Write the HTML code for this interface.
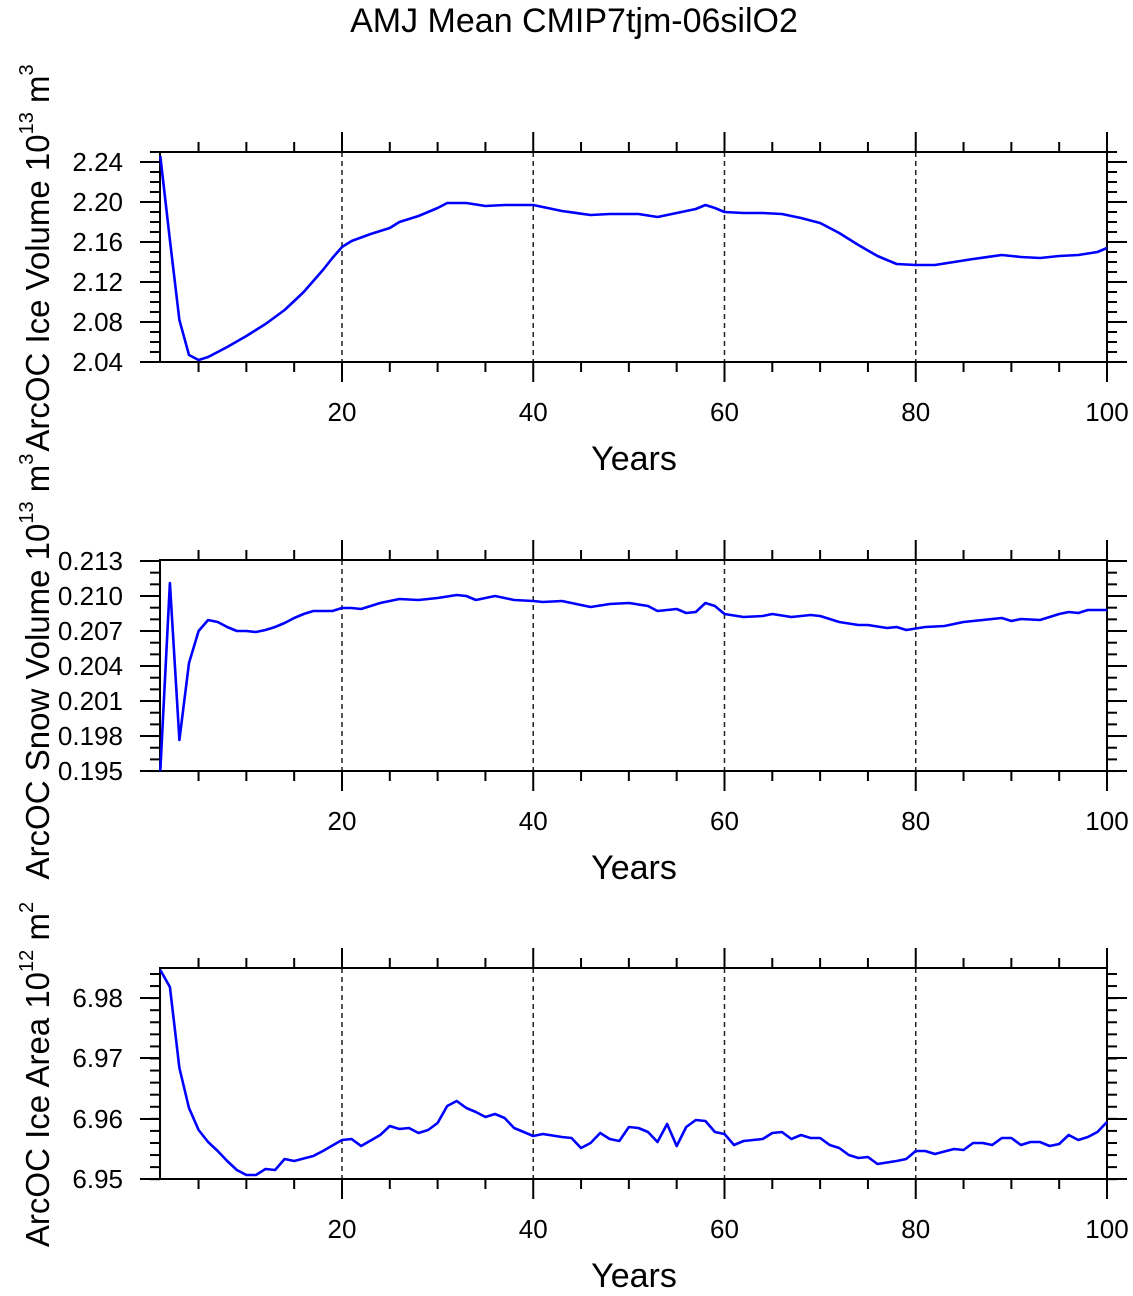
<!DOCTYPE html>
<html><head><meta charset="utf-8"><style>
body{margin:0;background:#fff}
svg text{font-family:"Liberation Sans",Arial,sans-serif;fill:#000}
</style></head><body>
<svg id="s" width="1133" height="1291" xmlns="http://www.w3.org/2000/svg">
<text x="574" y="32" font-size="34" text-anchor="middle">AMJ Mean CMIP7tjm-06silO2</text>
</svg>
<script>
const S=document.getElementById('s');const NS='http://www.w3.org/2000/svg';
function el(t,a,txt){const e=document.createElementNS(NS,t);for(const k in a)e.setAttribute(k,a[k]);if(txt!==undefined)e.textContent=txt;S.appendChild(e);return e;}
const X0=160,X1=1107;
function xy(yr){return 160.3+(yr-1)*9.5625;}
function interp(pts){const m={};for(let i=0;i<pts.length-1;i++){const[a,ya]=pts[i],[b,yb]=pts[i+1];for(let y=a;y<b;y++)m[y]=ya+(yb-ya)*(y-a)/(b-a);}m[pts[pts.length-1][0]]=pts[pts.length-1][1];let s='';for(let y=1;y<=100;y++)s+=xy(y).toFixed(1)+','+m[y].toFixed(1)+' ';return s;}
const panels=[
{top:152,bot:362,labels:[[162,'2.24'],[202,'2.20'],[242,'2.16'],[282,'2.12'],[322,'2.08'],[362,'2.04']],minor:10,minStart:152,
 yl:['ArcOC Ice Volume 10','13',' m','3'],
 d:[[1,156],[2,240],[3,320],[4,355],[5,360],[6,357],[7,352],[8,347],[10,336],[12,324],[14,310],[16,292],[18,270],[19,258],[20,247],[21,241],[23,234],[25,228],[26,222],[28,216],[30,208],[31,203],[33,203],[35,206],[37,205],[40,205],[43,211],[46,215],[48,214],[51,214],[53,217],[55,213],[57,209],[58,205],[59,208],[60,212],[62,213],[64,213],[66,214],[68,218],[70,223],[72,233],[74,245],[76,256],[78,264],[80,265],[82,265],[84,262],[86,259],[89,255],[91,257],[93,258],[95,256],[97,255],[99,252],[100,248]]},
{top:560,bot:771,labels:[[561,'0.213'],[596,'0.210'],[631,'0.207'],[666,'0.204'],[701,'0.201'],[736,'0.198'],[771,'0.195']],minor:11.67,minStart:561,
 yl:['ArcOC Snow Volume 10','13',' m','3'],
 d:[[1,771],[2,583],[3,740],[4,663],[5,631],[6,620],[7,622],[8,627],[9,631],[10,631],[11,632],[12,630],[13,627],[14,623],[15,618],[16,614],[17,611],[19,611],[20,608],[21,608],[22,609],[24,603],[26,599],[28,600],[30,598],[32,595],[33,596],[34,600],[36,596],[38,600],[40,601],[41,602],[43,601],[44,603],[46,607],[48,604],[50,603],[52,606],[53,611],[55,609],[56,613],[57,612],[58,603],[59,606],[60,614],[62,617],[64,616],[65,614],[67,617],[69,615],[70,616],[72,622],[74,625],[75,625],[77,628],[78,627],[79,630],[81,627],[83,626],[85,622],[87,620],[89,618],[90,621],[91,619],[93,620],[95,614],[96,612],[97,613],[98,610],[100,610]]},
{top:968,bot:1179,labels:[[998,'6.98'],[1058,'6.97'],[1119,'6.96'],[1179,'6.95']],minor:12.07,minStart:974,
 yl:['ArcOC Ice Area 10','12',' m','2'],
 d:[[1,970],[2,987],[3,1068],[4,1108],[5,1130],[6,1142],[7,1151],[8,1161],[9,1170],[10,1175],[11,1175],[12,1169],[13,1170],[14,1159],[15,1161],[17,1156],[18,1151],[20,1140],[21,1139],[22,1146],[24,1135],[25,1126],[26,1129],[27,1128],[28,1133],[29,1130],[30,1123],[31,1106],[32,1101],[33,1108],[34,1112],[35,1117],[36,1114],[37,1118],[38,1128],[40,1136],[41,1134],[43,1137],[44,1138],[45,1148],[46,1143],[47,1133],[48,1139],[49,1141],[50,1127],[51,1128],[52,1132],[53,1142],[54,1124],[55,1146],[56,1127],[57,1120],[58,1121],[59,1132],[60,1134],[61,1145],[62,1141],[64,1139],[65,1133],[66,1132],[67,1139],[68,1135],[69,1138],[70,1138],[71,1145],[72,1148],[73,1155],[74,1158],[75,1157],[76,1164],[78,1161],[79,1159],[80,1151],[81,1151],[82,1154],[84,1149],[85,1150],[86,1143],[87,1143],[88,1145],[89,1138],[90,1138],[91,1145],[92,1142],[93,1142],[94,1146],[95,1144],[96,1135],[97,1140],[98,1137],[99,1132],[100,1122]]}
];
for(const p of panels){
 for(const yr of [20,40,60,80]){const x=xy(yr);el('line',{x1:x,y1:p.top,x2:x,y2:p.bot,stroke:'#222','stroke-width':1.5,'stroke-dasharray':'5,4'});}
 for(let yr=5;yr<=100;yr+=5){const x=xy(yr);const L=yr%20==0?20:10;
  el('line',{x1:x,y1:p.bot,x2:x,y2:p.bot+L,stroke:'#000','stroke-width':2});
  el('line',{x1:x,y1:p.top,x2:x,y2:p.top-L,stroke:'#000','stroke-width':2});
  if(yr%20==0)el('text',{x:x,y:p.bot+59,'font-size':26,'text-anchor':'middle'},String(yr));}
 for(let y=p.minStart;y<=p.bot+0.5;y+=p.minor){
  el('line',{x1:X0-10,y1:y,x2:X0,y2:y,stroke:'#000','stroke-width':2});
  el('line',{x1:X1,y1:y,x2:X1+10,y2:y,stroke:'#000','stroke-width':2});}
 for(const[y,t] of p.labels){
  el('line',{x1:X0-20,y1:y,x2:X0,y2:y,stroke:'#000','stroke-width':2});
  el('line',{x1:X1,y1:y,x2:X1+20,y2:y,stroke:'#000','stroke-width':2});
  el('text',{x:123,y:y+9,'font-size':26,'text-anchor':'end'},t);}
 el('rect',{x:X0,y:p.top,width:X1-X0,height:p.bot-p.top,fill:'none',stroke:'#000','stroke-width':2});
 el('polyline',{points:interp(p.d),fill:'none',stroke:'#0000ff','stroke-width':2.6,'stroke-linejoin':'round'});
 el('text',{x:634,y:p.bot+108,'font-size':34,'text-anchor':'middle'},'Years');
 const cy=(p.top+p.bot)/2+1;
 const t=el('text',{x:0,y:0,'font-size':33,'text-anchor':'middle',transform:`translate(49,${cy}) rotate(-90)`});
 const parts=p.yl;
 const a=document.createElementNS(NS,'tspan');a.textContent=parts[0];t.appendChild(a);
 const b=document.createElementNS(NS,'tspan');b.setAttribute('font-size','20');b.setAttribute('dy','-16');b.textContent=parts[1];t.appendChild(b);
 const c=document.createElementNS(NS,'tspan');c.setAttribute('dy','16');c.textContent=parts[2];t.appendChild(c);
 const d=document.createElementNS(NS,'tspan');d.setAttribute('font-size','20');d.setAttribute('dy','-16');d.textContent=parts[3];t.appendChild(d);
}
</script>
</body></html>
